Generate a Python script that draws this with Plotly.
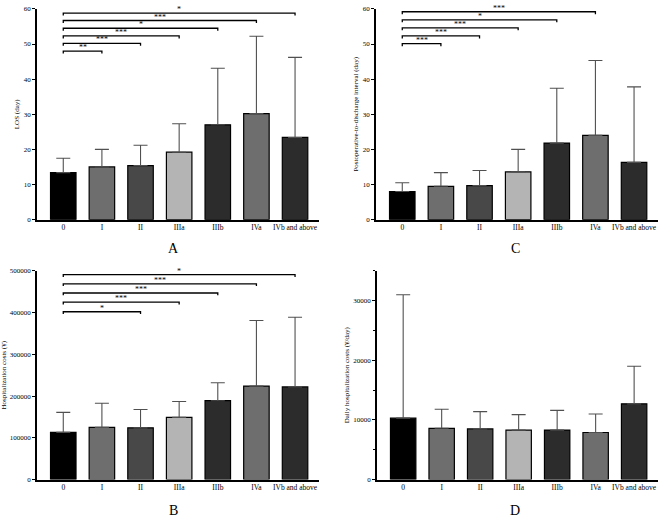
import plotly.graph_objects as go

categories = ["0", "I", "II", "IIIa", "IIIb", "IVa", "IVb and above"]
bar_colors = ["#000000", "#6e6e6e", "#484848", "#b4b4b4", "#2c2c2c", "#6e6e6e", "#2c2c2c"]

# Panel A: LOS (day)
los_mean = [13.4, 15.0, 15.4, 19.2, 27.0, 30.2, 23.4]
los_sd = [4.1, 5.0, 5.8, 8.1, 16.1, 22.0, 22.8]
los_sig_to = ["I", "II", "IIIa", "IIIb", "IVa", "IVb and above"]
los_sig_y = [48.0, 50.2, 52.3, 54.5, 56.7, 58.8]
los_sig_txt = ["**", "***", "***", "*", "***", "*"]

# Panel C: Postoperative-to-discharge interval (day)
post_mean = [8.0, 9.5, 9.7, 13.6, 21.8, 24.0, 16.3]
post_sd = [2.5, 3.9, 4.3, 6.4, 15.6, 21.3, 21.5]
post_sig_to = ["I", "II", "IIIa", "IIIb", "IVa"]
post_sig_y = [50.1, 52.3, 54.6, 56.9, 59.2]
post_sig_txt = ["***", "***", "***", "*", "***"]

# Panel B: Hospitalization costs
cost_mean = [113000, 125000, 124000, 149000, 189000, 224000, 222000]
cost_sd = [48000, 58000, 44000, 38000, 43000, 157000, 167000]
cost_sig_to = ["II", "IIIa", "IIIb", "IVa", "IVb and above"]
cost_sig_y = [402000, 425000, 447000, 469000, 491000]
cost_sig_txt = ["*", "***", "***", "***", "*"]

# Panel D: Daily hospitalization costs
daily_mean = [10300, 8600, 8500, 8300, 8300, 7900, 12700]
daily_sd = [20700, 3200, 2900, 2600, 3300, 3100, 6300]

FONT = "Liberation Serif, Times New Roman, serif"

fig = go.Figure()

panels = [
    ("x", "y", los_mean, los_sd, los_sig_to, los_sig_y, los_sig_txt, 0.7, [0, 60], 10,
     "LOS (day)", [37/669, 319/669], [1-219/522, 1-5/522]),
    ("x2", "y2", post_mean, post_sd, post_sig_to, post_sig_y, post_sig_txt, 0.7, [0, 60], 10,
     "Postoperative-to-discharge interval (day)", [376/669, 658/669], [1-219/522, 1-5/522]),
    ("x3", "y3", cost_mean, cost_sd, cost_sig_to, cost_sig_y, cost_sig_txt, 5500, [0, 500000], 100000,
     "Hospitalization costs (¥)", [37/669, 319/669], [1-483/522, 1-271/522]),
    ("x4", "y4", daily_mean, daily_sd, [], [], [], 0, [0, 35000], 10000,
     "Daily hospitalization costs (¥/day)", [377/669, 658/669], [1-483/522, 1-271/522]),
]

layout_axes = {}
for i, (xa, ya, mean, sd, sig_to, sig_y, sig_txt, drop, yr, dt, title, xdom, ydom) in enumerate(panels):
    fig.add_trace(go.Bar(
        x=categories, y=mean, xaxis=xa, yaxis=ya,
        marker=dict(color=bar_colors, line=dict(color="#000000", width=1.2)),
        width=0.66,
        error_y=dict(type="data", array=sd, arrayminus=[0]*len(sd), symmetric=False,
                     color="#505050", thickness=1.1, width=7),
        showlegend=False, hoverinfo="x+y",
    ))
    for tgt, h, txt in zip(sig_to, sig_y, sig_txt):
        fig.add_trace(go.Scatter(
            x=[categories[0], categories[0], tgt, tgt], y=[h - drop, h, h, h - drop],
            xaxis=xa, yaxis=ya, mode="lines",
            line=dict(color="#000000", width=1.3), showlegend=False, hoverinfo="skip",
        ))
        j = categories.index(tgt)
        fig.add_annotation(
            x=j / 2, y=h, xref=xa, yref=ya, text=txt, showarrow=False,
            yanchor="bottom", yshift=-3, font=dict(family=FONT, size=8, color="#000000"),
        )
    n = "" if i == 0 else str(i + 1)
    layout_axes["xaxis" + n] = dict(
        domain=xdom, anchor=ya, type="category", range=[-0.68, 6.62],
        showline=True, linecolor="#000000", linewidth=1.5, ticks="",
        showgrid=False, zeroline=False,
        tickfont=dict(family=FONT, size=7.5, color="#000000"),
    )
    yax = dict(
        domain=ydom, anchor=xa, range=yr, dtick=dt, tick0=0, tickformat="d",
        showline=True, linecolor="#000000", linewidth=1.5,
        ticks="outside", ticklen=3, tickwidth=1.2, tickcolor="#000000",
        showgrid=False, zeroline=False,
        tickfont=dict(family=FONT, size=7, color="#000000"),
        title=dict(text=title, font=dict(family=FONT, size=7, color="#000000"), standoff=3),
    )
    if i == 3:
        yax["minor"] = dict(ticks="outside", ticklen=2, tickwidth=1, tickcolor="#000000", dtick=dt/2)
    layout_axes["yaxis" + n] = yax

for letter, px, py in [("A", 173, 248), ("C", 515, 248), ("B", 173, 514), ("D", 515, 514)]:
    fig.add_annotation(
        x=px/669, y=1-py/522, xref="paper", yref="paper", text=letter, showarrow=False,
        xanchor="center", yanchor="middle", font=dict(family=FONT, size=14, color="#000000"),
    )

fig.update_layout(
    width=669, height=522, margin=dict(l=0, r=0, t=0, b=0),
    paper_bgcolor="#ffffff", plot_bgcolor="#ffffff", bargap=0.34,
    **layout_axes,
)

fig.write_html("out.html", config={"displayModeBar": False},
               post_script="document.body.style.margin='0';document.body.style.padding='0';")
